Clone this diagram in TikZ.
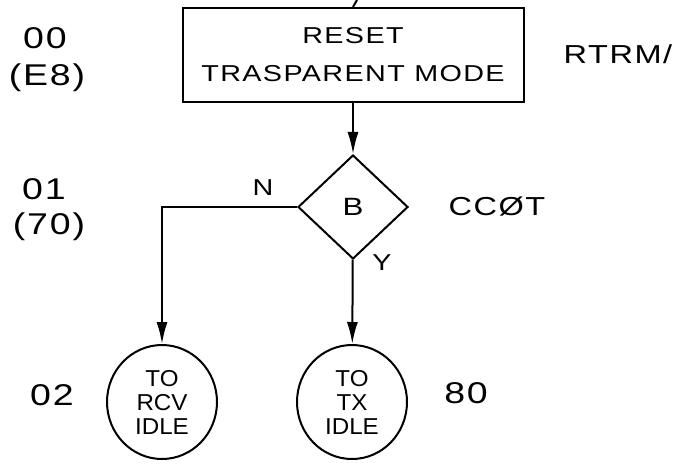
\documentclass[tikz,border=0pt]{standalone}
\usepackage{fontspec}
\setmainfont{Liberation Sans}[FakeStretch=1.25,LetterSpace=6]
\usepackage{tikz}
\usetikzlibrary{shapes.geometric,arrows.meta}

\begin{document}
\begin{tikzpicture}[x=1pt,y=-1pt,line width=2pt,
  font=\fontsize{23}{24}\selectfont,
  tip/.style={-{Latex[length=22pt,width=11pt]}},
  state/.style={draw,ellipse,minimum width=110pt,minimum height=114pt,inner sep=0pt,align=center,
    font=\fontsize{23}{24}\selectfont\addfontfeature{FakeStretch=1.05,LetterSpace=0}},
  code/.style={font=\fontsize{30}{30}\selectfont},
  mnem/.style={font=\fontsize{26}{26}\selectfont}]
  \useasboundingbox (0,0) rectangle (677,463);
  \node[draw,minimum width=341pt,minimum height=94pt,align=center] (reset) at (353,55) {RESET\\[14pt]TRASPARENT MODE};
  \node[draw,diamond,minimum width=110pt,minimum height=104pt,inner sep=0pt,font=\fontsize{25}{25}\selectfont] (dec) at (353,207) {B};
  \node[state] (rcv) at (162,402) {TO\\RCV\\IDLE};
  \node[state] (tx) at (352,402) {TO\\TX\\IDLE};
  \coordinate (in) at (357,0);
  \coordinate (bend) at (162,207);
  \draw (in) -- (reset.north);
  \draw[tip] (reset) -- (dec);
  \draw[tip] (dec.west) -- (bend) -- (rcv);
  \draw[tip] (dec) -- (tx);
  \node (no) at (263,188) {N};
  \node (yes) at (382,263) {Y};
  \node[code] (s00) at (45,38) {00};
  \node[code] (e8) at (47,78) {(E8)};
  \node[code] (s01) at (44,189) {01};
  \node[code] (h70) at (49,227) {(70)};
  \node[code] (s02) at (52,395) {02};
  \node[code] (s80) at (466,393) {80};
  \node[mnem] (rtrm) at (618,54) {RTRM/};
  \node[mnem] (ccot) at (497,207) {CCØT};
\end{tikzpicture}
\end{document}
